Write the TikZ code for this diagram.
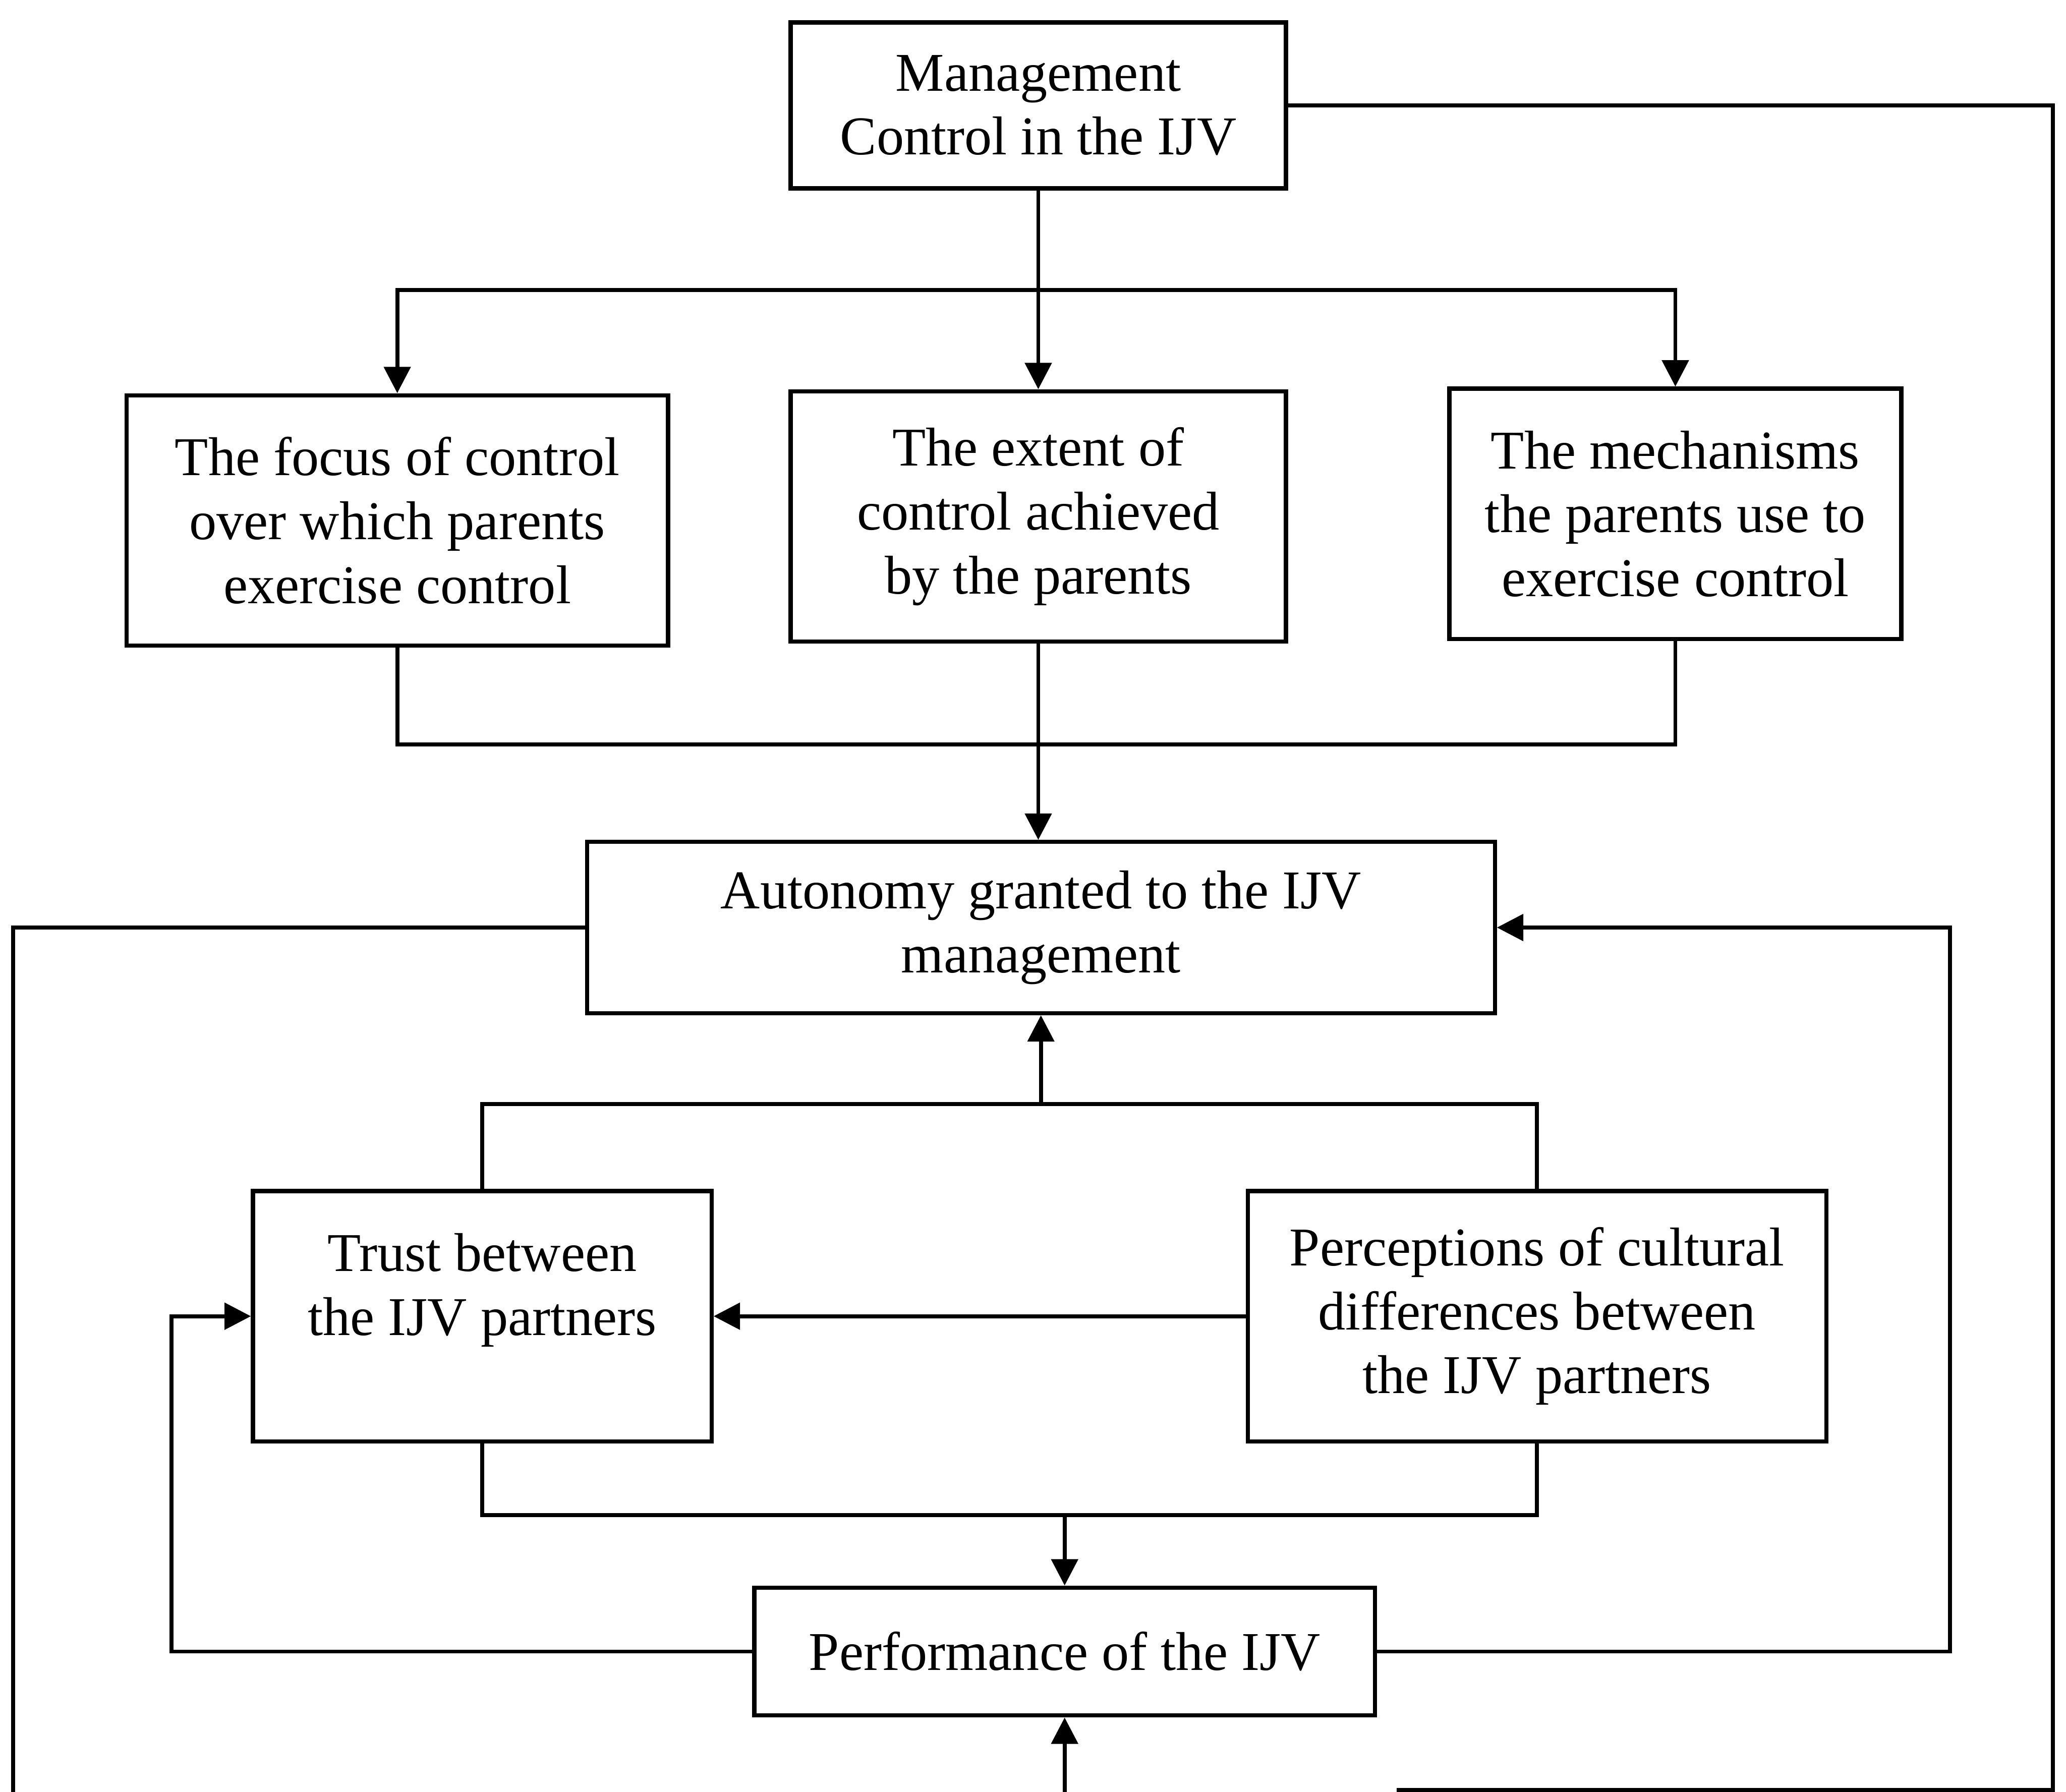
\documentclass[tikz,border=0pt]{standalone}
\usepackage{fontspec}
\setmainfont{Liberation Serif}
\usetikzlibrary{arrows.meta,positioning,calc}

\begin{document}
\begin{tikzpicture}[box/.style={draw,line width=.9pt,align=center,inner sep=0pt,font=\fontsize{11.8}{13.8}\selectfont},
  link/.style={line width=.85pt},
  arr/.style={line width=.85pt,-{Triangle[length=2mm,width=2mm]}}]
\useasboundingbox (0,0) rectangle (15.68,-13.60);
\node[box,minimum width=3.76cm,minimum height=1.26cm] (mc) at (7.88,-0.80) {Management\\Control in the IJV};
\node[box,minimum width=4.11cm,minimum height=1.90cm] (focus) at (3.015,-3.95) {The focus of control\\over which parents\\exercise control};
\node[box,minimum width=3.76cm,minimum height=1.90cm] (extent) at (7.88,-3.92) {The extent of\\control achieved\\by the parents};
\node[box,minimum width=3.43cm,minimum height=1.90cm] (mech) at (12.715,-3.90) {The mechanisms\\the parents use to\\exercise control};
\node[box,minimum width=6.89cm,minimum height=1.30cm] (auton) at (7.90,-7.04) {Autonomy granted to the IJV\\management};
\node[box,minimum width=3.48cm,minimum height=1.90cm] (trust) at (3.66,-9.99) {Trust between\\the IJV partners\\~};
\node[box,minimum width=4.39cm,minimum height=1.90cm] (percep) at (11.665,-9.99) {Perceptions of cultural\\differences between\\the IJV partners};
\node[box,minimum width=4.71cm,minimum height=0.97cm] (perf) at (8.08,-12.535) {Performance of the IJV};
% junction points
\coordinate (split) at (7.88,-2.20);
\coordinate (join1) at (7.88,-5.65);
\coordinate (join2) at (7.90,-8.38);
\coordinate (join3) at (8.08,-11.50);
\coordinate (lloop) at (1.30,-9.99);
\coordinate (rloop) at (14.80,-7.04);
\coordinate (botL) at (0.10,-13.62);
\coordinate (botR) at (15.58,-13.585);
\coordinate (botRend) at (10.60,-13.585);
\coordinate (bot) at (8.08,-13.62);
% top part
\draw[arr] (mc) -- (extent);
\draw[arr] (split) -| (focus);
\draw[arr] (split) -| (mech);
\draw[link] (focus) |- (join1) -| (mech);
\draw[arr] (extent.south) -- (extent.south |- auton.north);
% middle part
\draw[link] (trust) |- (join2) -| (percep);
\draw[arr] (join2) -- (auton);
\draw[arr] (percep) -- (trust);
\draw[link] (trust) |- (join3) -| (percep);
\draw[arr] (join3) -- (perf);
% feedback loops
\draw[arr] (perf.west) -| (lloop) -- (trust.west);
\draw[arr] (perf.east) -| (rloop) -- (auton.east);
\draw[link] (auton.west) -| (botL);
\draw[link] (mc.east) -| (botR) -- (botRend);
\draw[arr] (bot) -- (perf);
\end{tikzpicture}
\end{document}
